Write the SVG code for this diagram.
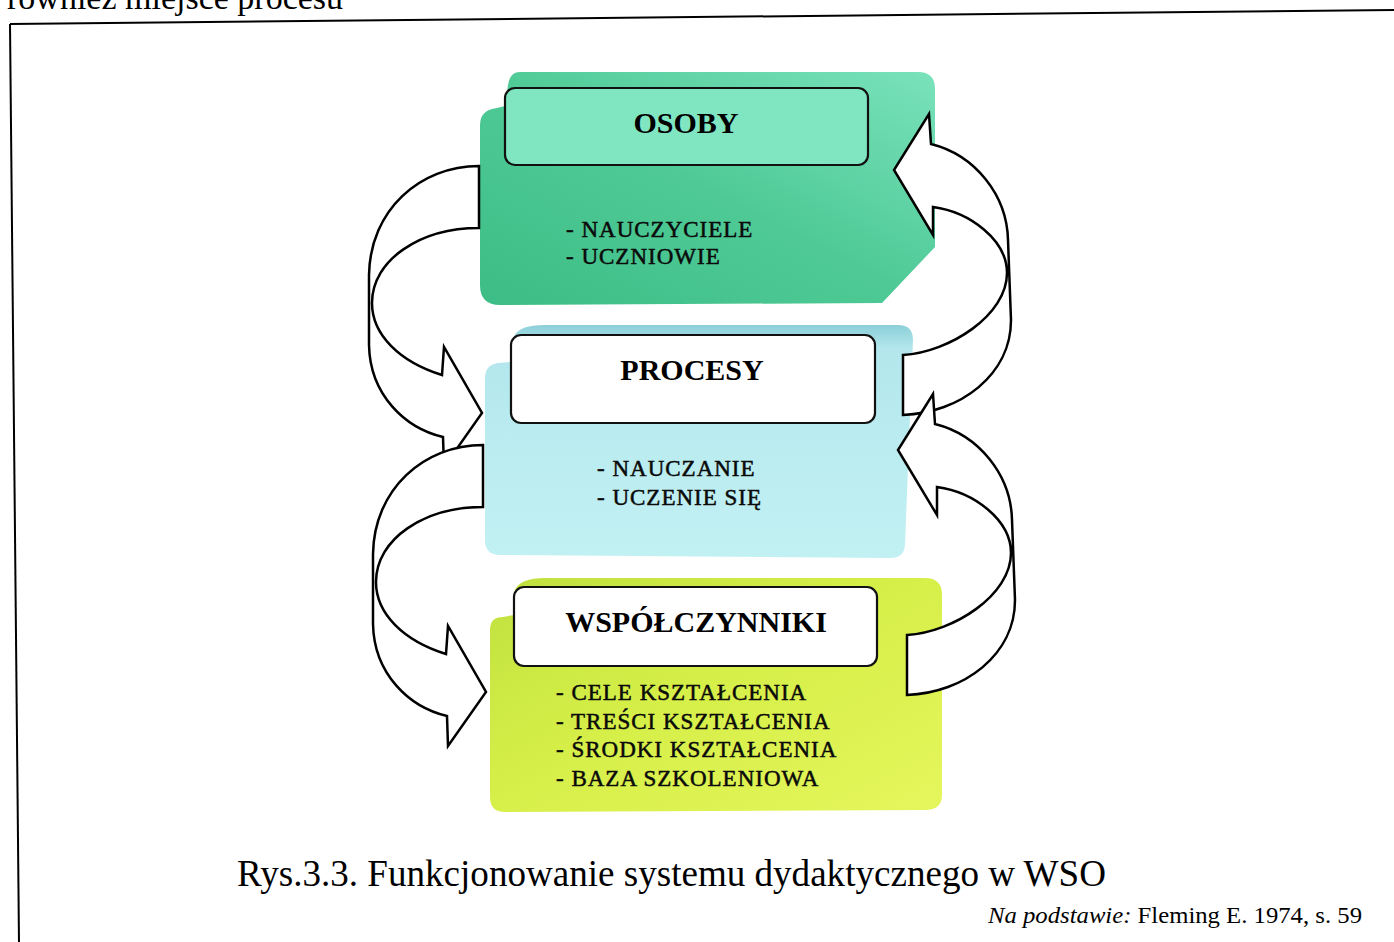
<svg xmlns="http://www.w3.org/2000/svg" width="1394" height="942" viewBox="0 0 1394 942">
<defs>
<linearGradient id="gGreen" x1="1" y1="0" x2="0" y2="1">
<stop offset="0" stop-color="#7ae2bc"/>
<stop offset="0.5" stop-color="#4fca96"/>
<stop offset="1" stop-color="#3dbd86"/>
</linearGradient>
<linearGradient id="gCyan" x1="0" y1="0" x2="0" y2="1">
<stop offset="0" stop-color="#8ccfd8"/>
<stop offset="0.1" stop-color="#b3e7ed"/>
<stop offset="1" stop-color="#c2f1f3"/>
</linearGradient>
<linearGradient id="gYellow" x1="0" y1="0" x2="1" y2="1">
<stop offset="0" stop-color="#bfe03e"/>
<stop offset="0.45" stop-color="#d6ef48"/>
<stop offset="1" stop-color="#e5f65c"/>
</linearGradient>
<style>
.frame{stroke:#000;stroke-width:2;fill:none}
.tbox{stroke:#111;stroke-width:2.2}
.title{font-family:"Liberation Serif","Times New Roman",serif;font-weight:bold;font-size:30px;fill:#000;text-anchor:middle}
.item{font-family:"Liberation Serif","Times New Roman",serif;font-size:23px;fill:#0a0a0a;stroke:#0a0a0a;stroke-width:0.5;letter-spacing:1px}
.cap{font-family:"Liberation Serif","Times New Roman",serif;fill:#000}
.arrow{fill:#fff;stroke:#000;stroke-width:2.5;stroke-linejoin:miter}
</style>
</defs>
<rect x="0" y="0" width="1394" height="942" fill="#fff"/>
<text class="cap" x="7" y="9" font-size="34">również miejsce procesu</text>
<line class="frame" x1="10" y1="24" x2="1394" y2="10"/>
<line class="frame" x1="10" y1="24" x2="19" y2="942"/>

<g id="osoby">
<path d="M520,72 L918,72 Q935,72 935,89 L935,247 L882,303 L500,305 Q480,305 480,285 L480,125 Q480,110 497,108 L505,106 L508,85 Q510,72 520,72 Z" fill="url(#gGreen)"/>
<rect class="tbox" x="505" y="88" width="363" height="77" rx="10" fill="#80e6c2"/>
<text class="title" x="686" y="133">OSOBY</text>
<text class="item" x="566" y="237">- NAUCZYCIELE</text>
<text class="item" x="566" y="264">- UCZNIOWIE</text>
</g>

<g id="procesy">
<path d="M545,325 L898,325 Q913,325 913,340 L905,545 Q904,558 890,558 L500,555 Q485,555 485,540 L485,378 Q485,365 498,363 L511,362 L515,335 Q520,325 545,325 Z" fill="url(#gCyan)"/>
<rect class="tbox" x="511" y="335" width="364" height="88" rx="10" fill="#fff"/>
<text class="title" x="692" y="380">PROCESY</text>
<text class="item" x="597" y="476">- NAUCZANIE</text>
<text class="item" x="597" y="505">- UCZENIE SIĘ</text>
</g>

<g id="wspolczynniki">
<path d="M545,578 L925,578 Q942,578 942,595 L942,795 Q942,810 925,810 L505,812 Q490,812 490,797 L490,630 Q490,617 503,617 L514,615 L515,590 Q520,578 545,578 Z" fill="url(#gYellow)"/>
<rect class="tbox" x="514" y="587" width="363" height="79" rx="10" fill="#fff"/>
<text class="title" x="696" y="632">WSPÓŁCZYNNIKI</text>
<text class="item" x="556" y="700">- CELE KSZTAŁCENIA</text>
<text class="item" x="556" y="729">- TREŚCI KSZTAŁCENIA</text>
<text class="item" x="556" y="757">- ŚRODKI KSZTAŁCENIA</text>
<text class="item" x="556" y="786">- BAZA SZKOLENIOWA</text>
</g>

<g id="connectors">
<path id="a1" class="arrow" d="M479,166 C420,166 370,210 369,275 L369,345 C370,395 405,428 443,437 L444,467 L482,413 L444,347 L442,375 C400,362 372,335 372,303 C372,260 420,228 479,228 Z"/>
<path id="a2" class="arrow" transform="translate(4,279)" d="M479,166 C420,166 370,210 369,275 L369,345 C370,395 405,428 443,437 L444,467 L482,413 L444,347 L442,375 C400,362 372,335 372,303 C372,260 420,228 479,228 Z"/>
<path id="a3" class="arrow" d="M903,415 L903,355 C950,352 1007,315 1007,273 C1007,240 970,212 933,207 L933,235 L894,170 L929,114 L931,144 C975,155 1007,195 1008,240 L1011,320 C1011,375 960,413 903,415 Z"/>
<path id="a4" class="arrow" transform="translate(4,280)" d="M903,415 L903,355 C950,352 1007,315 1007,273 C1007,240 970,212 933,207 L933,235 L894,170 L929,114 L931,144 C975,155 1007,195 1008,240 L1011,320 C1011,375 960,413 903,415 Z"/>
</g>

<text class="cap" x="237" y="886" font-size="38" textLength="869" lengthAdjust="spacingAndGlyphs">Rys.3.3. Funkcjonowanie systemu dydaktycznego w WSO</text>
<text class="cap" x="988" y="923" font-size="24" textLength="374" lengthAdjust="spacingAndGlyphs"><tspan font-style="italic">Na podstawie:</tspan> Fleming E. 1974, s. 59</text>
</svg>
